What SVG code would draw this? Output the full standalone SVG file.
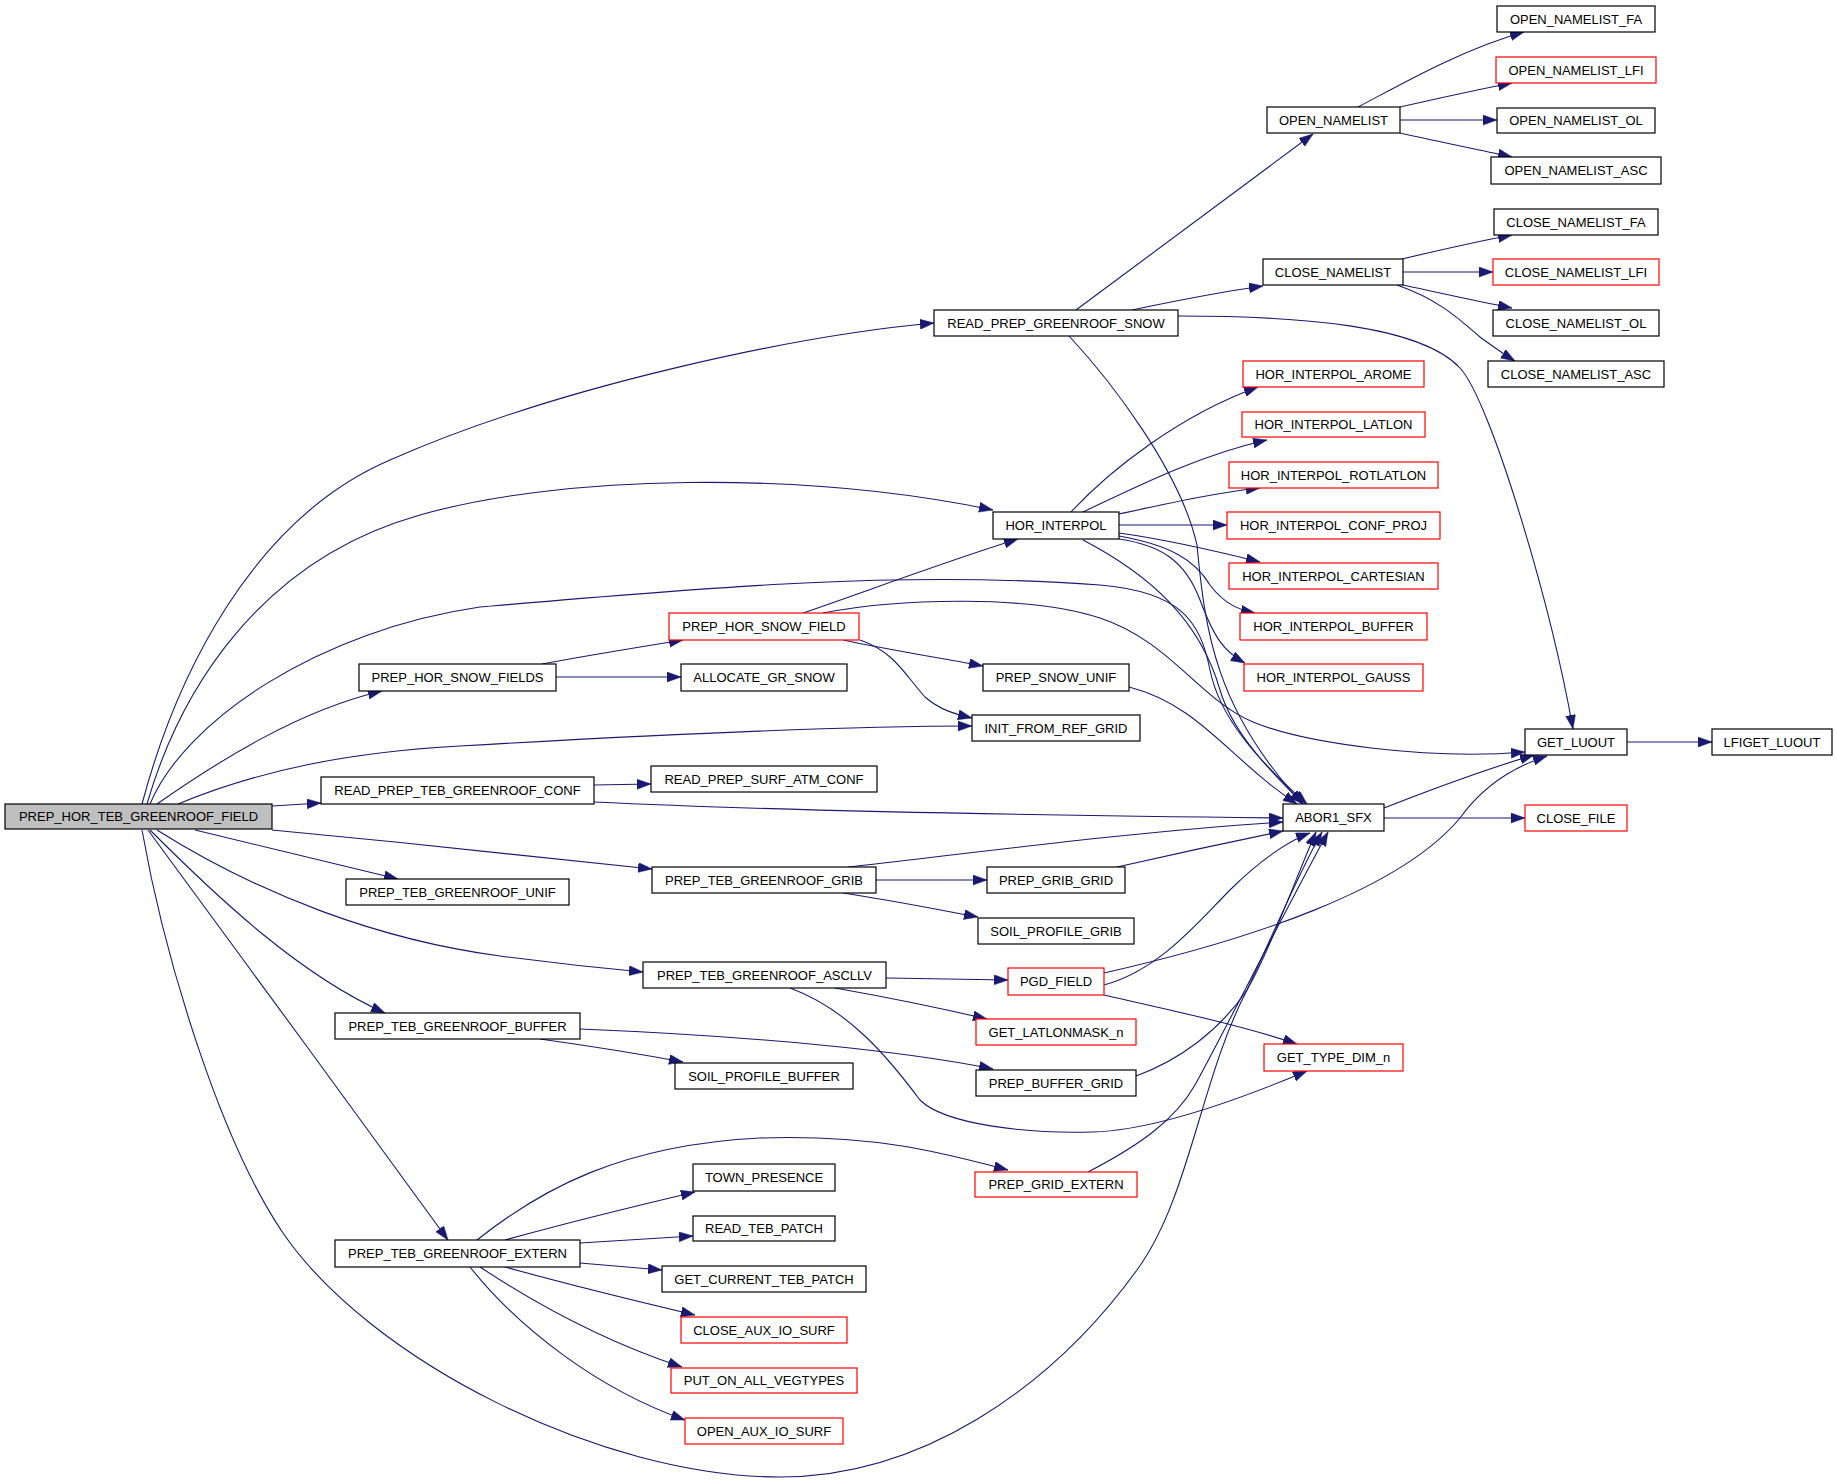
<svg xmlns="http://www.w3.org/2000/svg" width="1837" height="1483" viewBox="0 0 1837 1483">
<style>
.n rect{fill:#fff;stroke:#000;stroke-width:1.2}
.n.r rect{stroke:#f00}
.n.root rect{fill:#bfbfbf}
.n text{font-family:"Liberation Sans",Arial,sans-serif;font-size:13px;text-anchor:middle;fill:#000}
.e path{fill:none;stroke:#191970;stroke-width:1.1;marker-end:url(#a)}
</style>
<defs>
<marker id="a" markerUnits="userSpaceOnUse" markerWidth="15" markerHeight="11" refX="14" refY="5" orient="auto">
<path d="M0,0 L14,5 L0,10 z" fill="#191970" stroke="#191970" stroke-width="0.5"/>
</marker>
</defs>
<rect width="1837" height="1483" fill="#fff"/>
<g class="e" id="edges">
<path d="M142,804 C175,680 250,520 390,460 C560,385 800,335 934,323"/>
<path d="M147,804 C180,690 260,560 420,515 C560,475 800,470 993,510"/>
<path d="M150,804 C185,720 320,630 480,607 C700,588 900,570 1100,585 C1180,592 1200,620 1210,670 C1220,720 1260,760 1303,804"/>
<path d="M157,804 C220,760 300,710 382,691"/>
<path d="M178,804 C260,770 350,752 460,746 C650,735 850,726 972,726"/>
<path d="M272,806 L321,803"/>
<path d="M272,830 C400,842 550,858 652,869"/>
<path d="M195,830 L398,879"/>
<path d="M157,830 C260,895 380,940 500,956 C560,964 610,969 643,972"/>
<path d="M150,830 C220,900 300,975 385,1013"/>
<path d="M148,830 C230,940 360,1120 448,1240"/>
<path d="M142,830 C165,960 220,1140 283,1233 C370,1360 600,1477 780,1477 C920,1477 1050,1390 1137,1270 C1190,1197 1200,1080 1247,990 C1275,930 1300,870 1322,832"/>
<path d="M1076,310 L1313,134"/>
<path d="M1132,310 C1170,302 1220,292 1263,286"/>
<path d="M1178,316 C1300,316 1420,325 1460,368 C1490,400 1550,600 1573,729"/>
<path d="M1069,336 C1110,380 1180,470 1197,545 C1205,630 1215,710 1303,804"/>
<path d="M1071,512 C1110,470 1180,415 1258,387"/>
<path d="M1083,512 C1140,485 1200,455 1267,440"/>
<path d="M1119,514 C1170,503 1220,492 1260,488"/>
<path d="M1119,525 L1227,525"/>
<path d="M1119,533 C1170,540 1220,552 1260,562"/>
<path d="M1119,536 C1170,545 1195,560 1210,585 C1225,605 1240,610 1255,613"/>
<path d="M1119,539 C1160,545 1185,560 1200,600 C1215,640 1225,652 1245,663"/>
<path d="M1083,540 C1150,575 1200,620 1220,690 C1235,740 1280,780 1307,804"/>
<path d="M1129,687 C1200,705 1230,760 1297,804"/>
<path d="M803,613 C870,590 950,560 1018,539"/>
<path d="M823,613 C900,598 1030,595 1100,618 C1170,641 1200,700 1253,722 C1306,744 1430,760 1525,752"/>
<path d="M843,640 C890,650 940,658 983,666"/>
<path d="M860,640 C895,652 905,675 925,697 C940,710 955,714 972,718"/>
<path d="M542,664 C590,655 640,647 683,640"/>
<path d="M556,677 L681,677"/>
<path d="M594,785 L651,784"/>
<path d="M594,802 C800,812 1100,816 1283,818"/>
<path d="M848,867 C980,852 1150,830 1283,822"/>
<path d="M876,880 L987,880"/>
<path d="M843,893 C890,900 940,910 978,917"/>
<path d="M1117,867 C1170,855 1230,842 1283,831"/>
<path d="M886,978 L1008,980"/>
<path d="M835,988 C880,996 940,1008 987,1019"/>
<path d="M790,988 C850,1010 890,1060 920,1100 C945,1125 1030,1134 1093,1132 C1160,1130 1250,1095 1307,1071"/>
<path d="M1104,995 C1170,1010 1240,1025 1297,1044"/>
<path d="M1104,973 C1250,940 1400,890 1460,818 C1480,790 1510,768 1547,756"/>
<path d="M1104,985 C1160,970 1200,920 1230,890 C1260,860 1290,840 1310,833"/>
<path d="M1384,808 C1430,790 1490,768 1534,755"/>
<path d="M1384,818 L1525,818"/>
<path d="M1627,742 L1712,742"/>
<path d="M540,1039 C590,1046 640,1054 683,1062"/>
<path d="M580,1029 C750,1036 900,1050 993,1069"/>
<path d="M1136,1076 C1180,1060 1220,1030 1247,990 C1270,950 1295,880 1316,832"/>
<path d="M1088,1172 C1140,1145 1175,1120 1195,1085 C1220,1040 1280,920 1328,832"/>
<path d="M477,1240 C540,1190 620,1145 760,1138 C880,1134 950,1155 1008,1170"/>
<path d="M505,1240 C570,1222 640,1205 695,1192"/>
<path d="M580,1243 L693,1236"/>
<path d="M580,1263 L662,1270"/>
<path d="M505,1267 C570,1285 640,1302 695,1315"/>
<path d="M480,1267 C530,1300 600,1340 682,1367"/>
<path d="M470,1267 C520,1330 600,1390 685,1420"/>
<path d="M1358,107 C1400,85 1460,50 1524,32"/>
<path d="M1400,107 C1440,98 1480,89 1512,83"/>
<path d="M1400,120 L1497,120"/>
<path d="M1400,133 C1440,142 1480,150 1512,157"/>
<path d="M1402,259 C1440,250 1480,241 1512,235"/>
<path d="M1403,272 L1493,272"/>
<path d="M1403,285 C1440,293 1480,302 1512,308"/>
<path d="M1397,285 C1440,300 1460,320 1480,337 C1495,348 1505,355 1515,361"/>
</g>
<g id="root" class="n root"><rect x="5" y="804" width="267" height="25"/><text x="138.5" y="821">PREP_HOR_TEB_GREENROOF_FIELD</text></g>
<g id="read_prep_greenroof_snow" class="n"><rect x="934" y="310" width="244" height="26"/><text x="1056" y="327.7">READ_PREP_GREENROOF_SNOW</text></g>
<g id="open_namelist" class="n"><rect x="1267" y="107" width="133" height="26"/><text x="1333.5" y="124.7">OPEN_NAMELIST</text></g>
<g id="close_namelist" class="n"><rect x="1263" y="259" width="140" height="26"/><text x="1333" y="276.7">CLOSE_NAMELIST</text></g>
<g id="open_namelist_fa" class="n"><rect x="1497" y="6" width="158" height="26"/><text x="1576" y="23.7">OPEN_NAMELIST_FA</text></g>
<g id="open_namelist_lfi" class="n r"><rect x="1496" y="57" width="160" height="26"/><text x="1576" y="74.7">OPEN_NAMELIST_LFI</text></g>
<g id="open_namelist_ol" class="n"><rect x="1497" y="108" width="158" height="25"/><text x="1576" y="125.2">OPEN_NAMELIST_OL</text></g>
<g id="open_namelist_asc" class="n"><rect x="1491" y="157" width="170" height="27"/><text x="1576" y="175.2">OPEN_NAMELIST_ASC</text></g>
<g id="close_namelist_fa" class="n"><rect x="1494" y="209" width="164" height="26"/><text x="1576" y="226.7">CLOSE_NAMELIST_FA</text></g>
<g id="close_namelist_lfi" class="n r"><rect x="1493" y="259" width="166" height="26"/><text x="1576" y="276.7">CLOSE_NAMELIST_LFI</text></g>
<g id="close_namelist_ol" class="n"><rect x="1493" y="310" width="166" height="26"/><text x="1576" y="327.7">CLOSE_NAMELIST_OL</text></g>
<g id="close_namelist_asc" class="n"><rect x="1488" y="361" width="176" height="26"/><text x="1576" y="378.7">CLOSE_NAMELIST_ASC</text></g>
<g id="hor_interpol_arome" class="n r"><rect x="1243" y="361" width="181" height="26"/><text x="1333.5" y="378.7">HOR_INTERPOL_AROME</text></g>
<g id="hor_interpol_latlon" class="n r"><rect x="1242" y="412" width="183" height="25"/><text x="1333.5" y="429.2">HOR_INTERPOL_LATLON</text></g>
<g id="hor_interpol_rotlatlon" class="n r"><rect x="1229" y="462" width="209" height="26"/><text x="1333.5" y="479.7">HOR_INTERPOL_ROTLATLON</text></g>
<g id="hor_interpol" class="n"><rect x="993" y="512" width="126" height="27"/><text x="1056" y="530.2">HOR_INTERPOL</text></g>
<g id="hor_interpol_conf_proj" class="n r"><rect x="1227" y="512" width="213" height="27"/><text x="1333.5" y="530.2">HOR_INTERPOL_CONF_PROJ</text></g>
<g id="hor_interpol_cartesian" class="n r"><rect x="1229" y="563" width="209" height="26"/><text x="1333.5" y="580.7">HOR_INTERPOL_CARTESIAN</text></g>
<g id="hor_interpol_buffer" class="n r"><rect x="1240" y="613" width="187" height="27"/><text x="1333.5" y="631.2">HOR_INTERPOL_BUFFER</text></g>
<g id="hor_interpol_gauss" class="n r"><rect x="1244" y="664" width="179" height="27"/><text x="1333.5" y="682.2">HOR_INTERPOL_GAUSS</text></g>
<g id="prep_hor_snow_field" class="n r"><rect x="669" y="613" width="190" height="27"/><text x="764" y="631.2">PREP_HOR_SNOW_FIELD</text></g>
<g id="prep_hor_snow_fields" class="n"><rect x="359" y="664" width="197" height="27"/><text x="457.5" y="682.2">PREP_HOR_SNOW_FIELDS</text></g>
<g id="allocate_gr_snow" class="n"><rect x="681" y="664" width="166" height="27"/><text x="764" y="682.2">ALLOCATE_GR_SNOW</text></g>
<g id="prep_snow_unif" class="n"><rect x="983" y="664" width="146" height="27"/><text x="1056" y="682.2">PREP_SNOW_UNIF</text></g>
<g id="init_from_ref_grid" class="n"><rect x="972" y="715" width="168" height="26"/><text x="1056" y="732.7">INIT_FROM_REF_GRID</text></g>
<g id="get_luout" class="n"><rect x="1525" y="729" width="102" height="26"/><text x="1576" y="746.7">GET_LUOUT</text></g>
<g id="lfiget_luout" class="n"><rect x="1712" y="729" width="120" height="26"/><text x="1772" y="746.7">LFIGET_LUOUT</text></g>
<g id="read_prep_teb_greenroof_conf" class="n"><rect x="321" y="777" width="273" height="27"/><text x="457.5" y="795.2">READ_PREP_TEB_GREENROOF_CONF</text></g>
<g id="read_prep_surf_atm_conf" class="n"><rect x="651" y="766" width="226" height="26"/><text x="764" y="783.7">READ_PREP_SURF_ATM_CONF</text></g>
<g id="abor1_sfx" class="n"><rect x="1283" y="804" width="101" height="27"/><text x="1333.5" y="822.2">ABOR1_SFX</text></g>
<g id="close_file" class="n r"><rect x="1525" y="805" width="102" height="26"/><text x="1576" y="822.7">CLOSE_FILE</text></g>
<g id="prep_teb_greenroof_grib" class="n"><rect x="652" y="867" width="224" height="26"/><text x="764" y="884.7">PREP_TEB_GREENROOF_GRIB</text></g>
<g id="prep_teb_greenroof_unif" class="n"><rect x="346" y="879" width="223" height="26"/><text x="457.5" y="896.7">PREP_TEB_GREENROOF_UNIF</text></g>
<g id="prep_grib_grid" class="n"><rect x="987" y="867" width="138" height="26"/><text x="1056" y="884.7">PREP_GRIB_GRID</text></g>
<g id="soil_profile_grib" class="n"><rect x="978" y="918" width="156" height="26"/><text x="1056" y="935.7">SOIL_PROFILE_GRIB</text></g>
<g id="prep_teb_greenroof_ascllv" class="n"><rect x="643" y="962" width="243" height="26"/><text x="764.5" y="979.7">PREP_TEB_GREENROOF_ASCLLV</text></g>
<g id="pgd_field" class="n r"><rect x="1008" y="968" width="96" height="27"/><text x="1056" y="986.2">PGD_FIELD</text></g>
<g id="get_latlonmask_n" class="n r"><rect x="976" y="1019" width="160" height="26"/><text x="1056" y="1036.7">GET_LATLONMASK_n</text></g>
<g id="get_type_dim_n" class="n r"><rect x="1264" y="1044" width="139" height="27"/><text x="1333.5" y="1062.2">GET_TYPE_DIM_n</text></g>
<g id="prep_teb_greenroof_buffer" class="n"><rect x="335" y="1013" width="245" height="26"/><text x="457.5" y="1030.7">PREP_TEB_GREENROOF_BUFFER</text></g>
<g id="soil_profile_buffer" class="n"><rect x="675" y="1063" width="178" height="26"/><text x="764" y="1080.7">SOIL_PROFILE_BUFFER</text></g>
<g id="prep_buffer_grid" class="n"><rect x="976" y="1070" width="160" height="26"/><text x="1056" y="1087.7">PREP_BUFFER_GRID</text></g>
<g id="prep_grid_extern" class="n r"><rect x="975" y="1172" width="162" height="25"/><text x="1056" y="1189.2">PREP_GRID_EXTERN</text></g>
<g id="prep_teb_greenroof_extern" class="n"><rect x="335" y="1240" width="245" height="27"/><text x="457.5" y="1258.2">PREP_TEB_GREENROOF_EXTERN</text></g>
<g id="town_presence" class="n"><rect x="693" y="1164" width="142" height="27"/><text x="764" y="1182.2">TOWN_PRESENCE</text></g>
<g id="read_teb_patch" class="n"><rect x="693" y="1216" width="142" height="25"/><text x="764" y="1233.2">READ_TEB_PATCH</text></g>
<g id="get_current_teb_patch" class="n"><rect x="662" y="1266" width="204" height="26"/><text x="764" y="1283.7">GET_CURRENT_TEB_PATCH</text></g>
<g id="close_aux_io_surf" class="n r"><rect x="681" y="1317" width="166" height="26"/><text x="764" y="1334.7">CLOSE_AUX_IO_SURF</text></g>
<g id="put_on_all_vegtypes" class="n r"><rect x="671" y="1368" width="186" height="25"/><text x="764" y="1385.2">PUT_ON_ALL_VEGTYPES</text></g>
<g id="open_aux_io_surf" class="n r"><rect x="685" y="1418" width="158" height="26"/><text x="764" y="1435.7">OPEN_AUX_IO_SURF</text></g>
</svg>
